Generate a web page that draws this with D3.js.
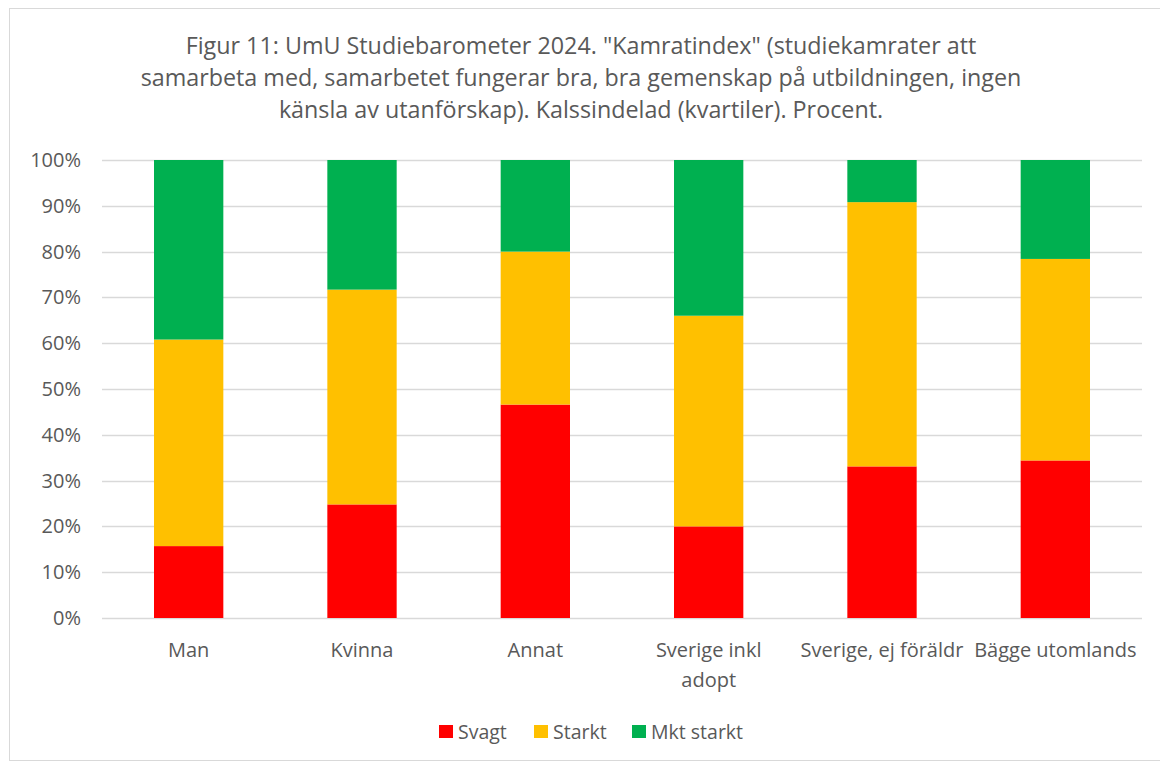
<!DOCTYPE html>
<html>
<head>
<meta charset="utf-8">
<script src="https://cdn.jsdelivr.net/npm/d3@7"></script>
<style>
  body { margin: 0; background: #fff; }
  svg { display: block; }
</style>
</head>
<body>
<svg width="1160" height="765"></svg>
<script>
var categories = ["Man", "Kvinna", "Annat", "Sverige inkl adopt", "Sverige, ej föräldr", "Bägge utomlands"];
var svagt = [15.7, 24.8, 46.6, 20.0, 33.1, 34.4];
var starkt = [45.1, 46.9, 33.4, 46.0, 57.7, 44.0];
var mktStarkt = [39.2, 28.3, 20.0, 34.0, 9.2, 21.6];
var seriesNames = ["Svagt", "Starkt", "Mkt starkt"];
var seriesColors = ["#ff0000", "#ffc000", "#00b050"];
var yTicks = [0, 10, 20, 30, 40, 50, 60, 70, 80, 90, 100];
var titleLines = [
  "Figur 11: UmU Studiebarometer 2024. \"Kamratindex\" (studiekamrater att",
  "samarbeta med, samarbetet fungerar bra, bra gemenskap på utbildningen, ingen",
  "känsla av utanförskap). Kalssindelad (kvartiler). Procent."
];

var font = "'Open Sans', sans-serif";
var margin = { left: 102, right: 18, top: 160, bottom: 147 };
var width = 1160, height = 765;

var svg = d3.select("svg");

// outer frame
svg.append("rect")
   .attr("x", 9.5).attr("y", 8.5)
   .attr("width", 1160).attr("height", 752)
   .attr("fill", "none")
   .attr("stroke", "#d9d9d9");

// title
svg.append("g").selectAll("text")
   .data(titleLines)
   .enter().append("text")
   .attr("x", 581)
   .attr("y", function(d, i) { return 54 + i * 32; })
   .attr("text-anchor", "middle")
   .attr("font-family", font)
   .attr("font-size", 23.3)
   .attr("fill", "#595959")
   .text(function(d) { return d; });

var table = categories.map(function(c, i) {
  return { cat: c, "Svagt": svagt[i], "Starkt": starkt[i], "Mkt starkt": mktStarkt[i] };
});
var stacked = d3.stack().keys(seriesNames)(table);

var xscale = d3.scaleBand()
               .domain(categories)
               .range([margin.left, width - margin.right])
               .paddingInner(0.6)
               .paddingOuter(0.3);

var yscale = d3.scaleLinear()
               .domain([0, 100])
               .range([618, margin.top]);

// gridlines
svg.append("g").selectAll("line")
   .data(yTicks)
   .enter().append("line")
   .attr("x1", margin.left).attr("x2", width - margin.right)
   .attr("y1", function(d) { return Math.round(yscale(d)) + 0.5; })
   .attr("y2", function(d) { return Math.round(yscale(d)) + 0.5; })
   .attr("stroke", "#d9d9d9")
   .attr("stroke-width", 1.3);

// y axis labels
var yaxis = d3.axisLeft(yscale)
              .tickValues(yTicks)
              .tickFormat(function(d) { return d + "%"; })
              .tickSize(0)
              .tickPadding(21);
var yg = svg.append("g")
            .attr("transform", "translate(" + margin.left + ",0)")
            .call(yaxis);
yg.select(".domain").remove();
yg.selectAll("text")
  .attr("font-family", font)
  .attr("font-size", 20)
  .attr("fill", "#595959");

// bars
svg.append("g").selectAll("g")
   .data(stacked)
   .enter().append("g")
   .attr("fill", function(d, i) { return seriesColors[i]; })
   .selectAll("rect")
   .data(function(d) { return d; })
   .enter().append("rect")
   .attr("x", function(d) { return xscale(d.data.cat); })
   .attr("width", xscale.bandwidth())
   .attr("y", function(d) { return yscale(d[1]); })
   .attr("height", function(d) { return yscale(d[0]) - yscale(d[1]); });

// x axis labels
var xwide = d3.scaleBand().domain(categories).range([margin.left, width - margin.right]);
var xlabels = {
  "Sverige inkl adopt": ["Sverige inkl", "adopt"]
};
var xg = svg.append("g").selectAll("text")
   .data(categories)
   .enter().append("text")
   .attr("x", function(d) { return xwide(d) + xwide.bandwidth() / 2; })
   .attr("y", 657)
   .attr("text-anchor", "middle")
   .attr("font-family", font)
   .attr("font-size", 20)
   .attr("fill", "#595959");
xg.selectAll("tspan")
  .data(function(d) { return xlabels[d] || [d]; })
  .enter().append("tspan")
  .attr("x", function() { var c = d3.select(this.parentNode).datum(); return xwide(c) + xwide.bandwidth() / 2; })
  .attr("dy", function(d, i) { return i === 0 ? 0 : 30; })
  .text(function(d) { return d; });

// legend
var legendX = [439, 534, 632];
var lg = svg.append("g").selectAll("g")
   .data(seriesNames)
   .enter().append("g")
   .attr("transform", function(d, i) { return "translate(" + legendX[i] + ",725)"; });
lg.append("rect")
  .attr("width", 14).attr("height", 13)
  .attr("fill", function(d, i) { return seriesColors[i]; });
lg.append("text")
  .attr("x", 19).attr("y", 14)
  .attr("font-family", font)
  .attr("font-size", 19.5)
  .attr("fill", "#595959")
  .text(function(d) { return d; });
</script>
</body>
</html>
